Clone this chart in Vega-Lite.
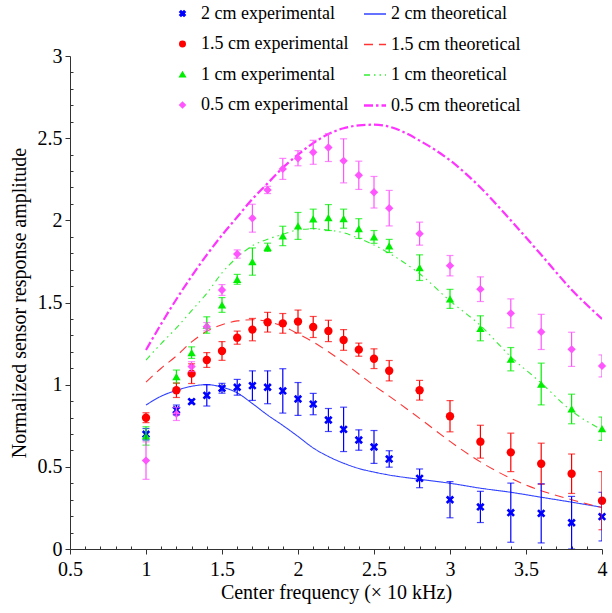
{
  "$schema": "https://vega.github.io/schema/vega-lite/v6.json",
  "width": 532,
  "height": 493,
  "autosize": "none",
  "padding": {"left": 70, "top": 56, "right": 10, "bottom": 64},
  "background": "white",
  "config": {
    "view": {"stroke": null}
  },
  "datasets": {
    "exp": [
      {"s": "2 cm experimental", "x": 1.0, "y": 0.698, "e": 0.035},
      {"s": "2 cm experimental", "x": 1.2, "y": 0.846, "e": 0.03},
      {"s": "2 cm experimental", "x": 1.3, "y": 0.897, "e": 0.012},
      {"s": "2 cm experimental", "x": 1.4, "y": 0.935, "e": 0.065},
      {"s": "2 cm experimental", "x": 1.5, "y": 0.978, "e": 0.03},
      {"s": "2 cm experimental", "x": 1.6, "y": 0.984, "e": 0.048},
      {"s": "2 cm experimental", "x": 1.7, "y": 0.994, "e": 0.09},
      {"s": "2 cm experimental", "x": 1.8, "y": 0.984, "e": 0.1},
      {"s": "2 cm experimental", "x": 1.9, "y": 0.962, "e": 0.135},
      {"s": "2 cm experimental", "x": 2.0, "y": 0.913, "e": 0.1},
      {"s": "2 cm experimental", "x": 2.1, "y": 0.882, "e": 0.065},
      {"s": "2 cm experimental", "x": 2.2, "y": 0.785, "e": 0.07},
      {"s": "2 cm experimental", "x": 2.3, "y": 0.728, "e": 0.135},
      {"s": "2 cm experimental", "x": 2.4, "y": 0.663, "e": 0.062},
      {"s": "2 cm experimental", "x": 2.5, "y": 0.621, "e": 0.1},
      {"s": "2 cm experimental", "x": 2.6, "y": 0.548, "e": 0.05},
      {"s": "2 cm experimental", "x": 2.8, "y": 0.43, "e": 0.057},
      {"s": "2 cm experimental", "x": 3.0, "y": 0.3, "e": 0.11},
      {"s": "2 cm experimental", "x": 3.2, "y": 0.256, "e": 0.095},
      {"s": "2 cm experimental", "x": 3.4, "y": 0.221, "e": 0.18},
      {"s": "2 cm experimental", "x": 3.6, "y": 0.217, "e": 0.18},
      {"s": "2 cm experimental", "x": 3.8, "y": 0.16, "e": 0.16},
      {"s": "2 cm experimental", "x": 4.0, "y": 0.197, "e": 0.148},
      {"s": "1.5 cm experimental", "x": 1.0, "y": 0.799, "e": 0.03},
      {"s": "1.5 cm experimental", "x": 1.2, "y": 0.966, "e": 0.044},
      {"s": "1.5 cm experimental", "x": 1.3, "y": 1.067, "e": 0.06},
      {"s": "1.5 cm experimental", "x": 1.4, "y": 1.15, "e": 0.045},
      {"s": "1.5 cm experimental", "x": 1.5, "y": 1.205, "e": 0.057},
      {"s": "1.5 cm experimental", "x": 1.6, "y": 1.286, "e": 0.04},
      {"s": "1.5 cm experimental", "x": 1.7, "y": 1.335, "e": 0.068},
      {"s": "1.5 cm experimental", "x": 1.8, "y": 1.38, "e": 0.06},
      {"s": "1.5 cm experimental", "x": 1.9, "y": 1.373, "e": 0.06},
      {"s": "1.5 cm experimental", "x": 2.0, "y": 1.384, "e": 0.07},
      {"s": "1.5 cm experimental", "x": 2.1, "y": 1.351, "e": 0.064},
      {"s": "1.5 cm experimental", "x": 2.2, "y": 1.327, "e": 0.065},
      {"s": "1.5 cm experimental", "x": 2.3, "y": 1.272, "e": 0.063},
      {"s": "1.5 cm experimental", "x": 2.4, "y": 1.213, "e": 0.04},
      {"s": "1.5 cm experimental", "x": 2.5, "y": 1.158, "e": 0.06},
      {"s": "1.5 cm experimental", "x": 2.6, "y": 1.085, "e": 0.062},
      {"s": "1.5 cm experimental", "x": 2.8, "y": 0.966, "e": 0.06},
      {"s": "1.5 cm experimental", "x": 3.0, "y": 0.808, "e": 0.095},
      {"s": "1.5 cm experimental", "x": 3.2, "y": 0.653, "e": 0.1},
      {"s": "1.5 cm experimental", "x": 3.4, "y": 0.588, "e": 0.117},
      {"s": "1.5 cm experimental", "x": 3.6, "y": 0.519, "e": 0.125},
      {"s": "1.5 cm experimental", "x": 3.8, "y": 0.458, "e": 0.12},
      {"s": "1.5 cm experimental", "x": 4.0, "y": 0.294, "e": 0.177},
      {"s": "1 cm experimental", "x": 1.0, "y": 0.688, "e": 0.056},
      {"s": "1 cm experimental", "x": 1.2, "y": 1.049, "e": 0.04},
      {"s": "1 cm experimental", "x": 1.3, "y": 1.195, "e": 0.035},
      {"s": "1 cm experimental", "x": 1.4, "y": 1.363, "e": 0.05},
      {"s": "1 cm experimental", "x": 1.5, "y": 1.485, "e": 0.045},
      {"s": "1 cm experimental", "x": 1.6, "y": 1.641, "e": 0.03},
      {"s": "1 cm experimental", "x": 1.7, "y": 1.749, "e": 0.083},
      {"s": "1 cm experimental", "x": 1.8, "y": 1.836, "e": 0.025},
      {"s": "1 cm experimental", "x": 1.9, "y": 1.905, "e": 0.059},
      {"s": "1 cm experimental", "x": 2.0, "y": 1.966, "e": 0.082},
      {"s": "1 cm experimental", "x": 2.1, "y": 2.009, "e": 0.059},
      {"s": "1 cm experimental", "x": 2.2, "y": 2.017, "e": 0.079},
      {"s": "1 cm experimental", "x": 2.3, "y": 2.01, "e": 0.058},
      {"s": "1 cm experimental", "x": 2.4, "y": 1.95, "e": 0.06},
      {"s": "1 cm experimental", "x": 2.5, "y": 1.899, "e": 0.039},
      {"s": "1 cm experimental", "x": 2.6, "y": 1.844, "e": 0.04},
      {"s": "1 cm experimental", "x": 2.8, "y": 1.712, "e": 0.078},
      {"s": "1 cm experimental", "x": 3.0, "y": 1.522, "e": 0.058},
      {"s": "1 cm experimental", "x": 3.2, "y": 1.343, "e": 0.076},
      {"s": "1 cm experimental", "x": 3.4, "y": 1.155, "e": 0.071},
      {"s": "1 cm experimental", "x": 3.6, "y": 1.004, "e": 0.127},
      {"s": "1 cm experimental", "x": 3.8, "y": 0.852, "e": 0.09},
      {"s": "1 cm experimental", "x": 4.0, "y": 0.732, "e": 0.071},
      {"s": "0.5 cm experimental", "x": 1.0, "y": 0.538, "e": 0.114},
      {"s": "0.5 cm experimental", "x": 1.2, "y": 0.822, "e": 0.04},
      {"s": "0.5 cm experimental", "x": 1.3, "y": 1.11, "e": 0.03},
      {"s": "0.5 cm experimental", "x": 1.4, "y": 1.353, "e": 0.025},
      {"s": "0.5 cm experimental", "x": 1.5, "y": 1.576, "e": 0.033},
      {"s": "0.5 cm experimental", "x": 1.6, "y": 1.795, "e": 0.025},
      {"s": "0.5 cm experimental", "x": 1.7, "y": 2.013, "e": 0.085},
      {"s": "0.5 cm experimental", "x": 1.8, "y": 2.185, "e": 0.022},
      {"s": "0.5 cm experimental", "x": 1.9, "y": 2.313, "e": 0.064},
      {"s": "0.5 cm experimental", "x": 2.0, "y": 2.378, "e": 0.046},
      {"s": "0.5 cm experimental", "x": 2.1, "y": 2.414, "e": 0.073},
      {"s": "0.5 cm experimental", "x": 2.2, "y": 2.443, "e": 0.085},
      {"s": "0.5 cm experimental", "x": 2.3, "y": 2.362, "e": 0.134},
      {"s": "0.5 cm experimental", "x": 2.4, "y": 2.274, "e": 0.086},
      {"s": "0.5 cm experimental", "x": 2.5, "y": 2.171, "e": 0.096},
      {"s": "0.5 cm experimental", "x": 2.6, "y": 2.074, "e": 0.108},
      {"s": "0.5 cm experimental", "x": 2.8, "y": 1.919, "e": 0.07},
      {"s": "0.5 cm experimental", "x": 3.0, "y": 1.724, "e": 0.062},
      {"s": "0.5 cm experimental", "x": 3.2, "y": 1.581, "e": 0.075},
      {"s": "0.5 cm experimental", "x": 3.4, "y": 1.434, "e": 0.088},
      {"s": "0.5 cm experimental", "x": 3.6, "y": 1.321, "e": 0.107},
      {"s": "0.5 cm experimental", "x": 3.8, "y": 1.215, "e": 0.104},
      {"s": "0.5 cm experimental", "x": 4.0, "y": 1.114, "e": 0.067}
    ],
    "theo": [
      {"c": "2 cm theoretical", "x": 1.0, "y": 0.876},
      {"c": "2 cm theoretical", "x": 1.1, "y": 0.93},
      {"c": "2 cm theoretical", "x": 1.2, "y": 0.965},
      {"c": "2 cm theoretical", "x": 1.3, "y": 0.99},
      {"c": "2 cm theoretical", "x": 1.4, "y": 1.0},
      {"c": "2 cm theoretical", "x": 1.5, "y": 0.985},
      {"c": "2 cm theoretical", "x": 1.6, "y": 0.95},
      {"c": "2 cm theoretical", "x": 1.7, "y": 0.885},
      {"c": "2 cm theoretical", "x": 1.8, "y": 0.815},
      {"c": "2 cm theoretical", "x": 1.9, "y": 0.752},
      {"c": "2 cm theoretical", "x": 2.0, "y": 0.685},
      {"c": "2 cm theoretical", "x": 2.1, "y": 0.615},
      {"c": "2 cm theoretical", "x": 2.2, "y": 0.563},
      {"c": "2 cm theoretical", "x": 2.3, "y": 0.522},
      {"c": "2 cm theoretical", "x": 2.4, "y": 0.49},
      {"c": "2 cm theoretical", "x": 2.5, "y": 0.468},
      {"c": "2 cm theoretical", "x": 2.6, "y": 0.45},
      {"c": "2 cm theoretical", "x": 2.8, "y": 0.424},
      {"c": "2 cm theoretical", "x": 3.0, "y": 0.4},
      {"c": "2 cm theoretical", "x": 3.2, "y": 0.37},
      {"c": "2 cm theoretical", "x": 3.4, "y": 0.345},
      {"c": "2 cm theoretical", "x": 3.6, "y": 0.315},
      {"c": "2 cm theoretical", "x": 3.8, "y": 0.285},
      {"c": "2 cm theoretical", "x": 4.0, "y": 0.254},
      {"c": "1.5 cm theoretical", "x": 1.0, "y": 1.015},
      {"c": "1.5 cm theoretical", "x": 1.1, "y": 1.1},
      {"c": "1.5 cm theoretical", "x": 1.2, "y": 1.175},
      {"c": "1.5 cm theoretical", "x": 1.3, "y": 1.26},
      {"c": "1.5 cm theoretical", "x": 1.4, "y": 1.325},
      {"c": "1.5 cm theoretical", "x": 1.5, "y": 1.365},
      {"c": "1.5 cm theoretical", "x": 1.6, "y": 1.388},
      {"c": "1.5 cm theoretical", "x": 1.7, "y": 1.395},
      {"c": "1.5 cm theoretical", "x": 1.8, "y": 1.385},
      {"c": "1.5 cm theoretical", "x": 1.9, "y": 1.355},
      {"c": "1.5 cm theoretical", "x": 2.0, "y": 1.31},
      {"c": "1.5 cm theoretical", "x": 2.1, "y": 1.26},
      {"c": "1.5 cm theoretical", "x": 2.2, "y": 1.2},
      {"c": "1.5 cm theoretical", "x": 2.3, "y": 1.135},
      {"c": "1.5 cm theoretical", "x": 2.4, "y": 1.065},
      {"c": "1.5 cm theoretical", "x": 2.5, "y": 0.995},
      {"c": "1.5 cm theoretical", "x": 2.6, "y": 0.93},
      {"c": "1.5 cm theoretical", "x": 2.8, "y": 0.795},
      {"c": "1.5 cm theoretical", "x": 3.0, "y": 0.655},
      {"c": "1.5 cm theoretical", "x": 3.2, "y": 0.53},
      {"c": "1.5 cm theoretical", "x": 3.4, "y": 0.43},
      {"c": "1.5 cm theoretical", "x": 3.6, "y": 0.355},
      {"c": "1.5 cm theoretical", "x": 3.8, "y": 0.3},
      {"c": "1.5 cm theoretical", "x": 4.0, "y": 0.252},
      {"c": "1 cm theoretical", "x": 1.0, "y": 1.15},
      {"c": "1 cm theoretical", "x": 1.1, "y": 1.25},
      {"c": "1 cm theoretical", "x": 1.2, "y": 1.345},
      {"c": "1 cm theoretical", "x": 1.3, "y": 1.45},
      {"c": "1 cm theoretical", "x": 1.4, "y": 1.556},
      {"c": "1 cm theoretical", "x": 1.5, "y": 1.68},
      {"c": "1 cm theoretical", "x": 1.6, "y": 1.775},
      {"c": "1 cm theoretical", "x": 1.7, "y": 1.845},
      {"c": "1 cm theoretical", "x": 1.8, "y": 1.885},
      {"c": "1 cm theoretical", "x": 1.9, "y": 1.915},
      {"c": "1 cm theoretical", "x": 2.0, "y": 1.942},
      {"c": "1 cm theoretical", "x": 2.1, "y": 1.948},
      {"c": "1 cm theoretical", "x": 2.2, "y": 1.94},
      {"c": "1 cm theoretical", "x": 2.3, "y": 1.925},
      {"c": "1 cm theoretical", "x": 2.4, "y": 1.89},
      {"c": "1 cm theoretical", "x": 2.5, "y": 1.85},
      {"c": "1 cm theoretical", "x": 2.6, "y": 1.8},
      {"c": "1 cm theoretical", "x": 2.8, "y": 1.675},
      {"c": "1 cm theoretical", "x": 3.0, "y": 1.51},
      {"c": "1 cm theoretical", "x": 3.2, "y": 1.36},
      {"c": "1 cm theoretical", "x": 3.4, "y": 1.17},
      {"c": "1 cm theoretical", "x": 3.6, "y": 1.01},
      {"c": "1 cm theoretical", "x": 3.8, "y": 0.84},
      {"c": "1 cm theoretical", "x": 4.0, "y": 0.725},
      {"c": "0.5 cm theoretical", "x": 1.0, "y": 1.211},
      {"c": "0.5 cm theoretical", "x": 1.1, "y": 1.37},
      {"c": "0.5 cm theoretical", "x": 1.2, "y": 1.52},
      {"c": "0.5 cm theoretical", "x": 1.3, "y": 1.66},
      {"c": "0.5 cm theoretical", "x": 1.4, "y": 1.79},
      {"c": "0.5 cm theoretical", "x": 1.5, "y": 1.91},
      {"c": "0.5 cm theoretical", "x": 1.6, "y": 2.02},
      {"c": "0.5 cm theoretical", "x": 1.7, "y": 2.13},
      {"c": "0.5 cm theoretical", "x": 1.8, "y": 2.225},
      {"c": "0.5 cm theoretical", "x": 1.9, "y": 2.32},
      {"c": "0.5 cm theoretical", "x": 2.0, "y": 2.4},
      {"c": "0.5 cm theoretical", "x": 2.1, "y": 2.47},
      {"c": "0.5 cm theoretical", "x": 2.2, "y": 2.525},
      {"c": "0.5 cm theoretical", "x": 2.3, "y": 2.56},
      {"c": "0.5 cm theoretical", "x": 2.4, "y": 2.578},
      {"c": "0.5 cm theoretical", "x": 2.5, "y": 2.582},
      {"c": "0.5 cm theoretical", "x": 2.6, "y": 2.57},
      {"c": "0.5 cm theoretical", "x": 2.7, "y": 2.535},
      {"c": "0.5 cm theoretical", "x": 2.8, "y": 2.485},
      {"c": "0.5 cm theoretical", "x": 2.9, "y": 2.43},
      {"c": "0.5 cm theoretical", "x": 3.0, "y": 2.365},
      {"c": "0.5 cm theoretical", "x": 3.2, "y": 2.2},
      {"c": "0.5 cm theoretical", "x": 3.4, "y": 2.0},
      {"c": "0.5 cm theoretical", "x": 3.6, "y": 1.79},
      {"c": "0.5 cm theoretical", "x": 3.8, "y": 1.578},
      {"c": "0.5 cm theoretical", "x": 4.0, "y": 1.4}
    ]
  },
  "encoding": {
    "x": {
      "field": "x", "type": "quantitative",
      "scale": {"domain": [0.5, 4], "nice": false, "zero": false},
      "axis": {
        "title": "Center frequency (× 10 kHz)",
        "grid": false,
        "labelFont": "Liberation Serif", "labelFontSize": 20, "labelColor": "black",
        "titleFont": "Liberation Serif", "titleFontSize": 20, "titleFontWeight": "normal", "titleColor": "black",
        "domainColor": "#333", "tickColor": "#333",
        "values": [0.5,0.6,0.7,0.8,0.9,1,1.1,1.2,1.3,1.4,1.5,1.6,1.7,1.8,1.9,2,2.1,2.2,2.3,2.4,2.5,2.6,2.7,2.8,2.9,3,3.1,3.2,3.3,3.4,3.5,3.6,3.7,3.8,3.9,4],
        "labelExpr": "abs(datum.value*2 - round(datum.value*2)) < 0.001 ? format(datum.value, '.1~f') : ''",
        "tickSize": {"condition": {"test": "abs(datum.value*2 - round(datum.value*2)) < 0.001", "value": 5}, "value": -3},
        "labelPadding": 5,
        "labelFlush": false,
        "labelOverlap": false,
        "titlePadding": 3
      }
    },
    "y": {
      "field": "y", "type": "quantitative",
      "scale": {"domain": [0, 3], "nice": false},
      "axis": {
        "title": "Normalized sensor response amplitude",
        "grid": false,
        "labelFont": "Liberation Serif", "labelFontSize": 20, "labelColor": "black",
        "titleFont": "Liberation Serif", "titleFontSize": 20, "titleFontWeight": "normal", "titleColor": "black",
        "domainColor": "#333", "tickColor": "#333",
        "values": [0,0.1,0.2,0.3,0.4,0.5,0.6,0.7,0.8,0.9,1,1.1,1.2,1.3,1.4,1.5,1.6,1.7,1.8,1.9,2,2.1,2.2,2.3,2.4,2.5,2.6,2.7,2.8,2.9,3],
        "labelExpr": "abs(datum.value*2 - round(datum.value*2)) < 0.001 ? format(datum.value, '.1~f') : ''",
        "tickSize": {"condition": {"test": "abs(datum.value*2 - round(datum.value*2)) < 0.001", "value": 5}, "value": -3},
        "labelPadding": 3,
        "labelFlush": false,
        "labelOverlap": false,
        "titlePadding": 8
      }
    }
  },
  "layer": [
    {
      "data": {"name": "theo"},
      "mark": {"type": "line", "interpolate": "monotone", "clip": true},
      "encoding": {
        "stroke": {
          "field": "c", "type": "nominal",
          "scale": {"domain": ["2 cm theoretical", "1.5 cm theoretical", "1 cm theoretical", "0.5 cm theoretical"], "range": ["#3344ff", "#ff3333", "#33ee33", "#ff33ff"]},
          "legend": {"orient": "none", "legendX": 296, "legendY": -51, "title": null, "symbolType": "stroke", "symbolSize": 484, "symbolStrokeWidth": 1.3, "labelOffset": 7, "rowPadding": 12.5, "padding": 0,
            "labelFont": "Liberation Serif", "labelFontSize": 18, "labelColor": "black",
            "encode": {"symbols": {"update": {"strokeWidth": {"signal": "datum.value == '0.5 cm theoretical' ? 2.4 : 1.3"}}}}}
        },
        "strokeDash": {
          "field": "c", "type": "nominal",
          "scale": {"domain": ["2 cm theoretical", "1.5 cm theoretical", "1 cm theoretical", "0.5 cm theoretical"], "range": [[1, 0], [9, 6], [6, 4, 1.5, 4, 1.5, 4], [9, 3, 2.5, 3]]}
        },
        "strokeWidth": {"condition": {"test": "datum.c == '0.5 cm theoretical'", "value": 2.2}, "value": 1.1}
      }
    },
    {
      "data": {"name": "exp"},
      "mark": {"type": "point", "filled": true, "opacity": 1, "size": 70},
      "encoding": {
        "color": {"field": "s", "type": "nominal",
          "scale": {"domain": ["2 cm experimental", "1.5 cm experimental", "1 cm experimental", "0.5 cm experimental"], "range": ["#0000ff", "#ff0000", "#00ee00", "#ff55ff"]},
          "legend": {"orient": "none", "legendX": 103.5, "legendY": -51.5, "title": null, "symbolSize": 30, "labelOffset": 9.5, "rowPadding": 12.5, "padding": 0,
            "labelFont": "Liberation Serif", "labelFontSize": 18, "labelColor": "black"}},
        "shape": {"field": "s", "type": "nominal",
          "scale": {"domain": ["2 cm experimental", "1.5 cm experimental", "1 cm experimental", "0.5 cm experimental"], "range": ["M-1,-0.55L-0.55,-1L0,-0.45L0.55,-1L1,-0.55L0.45,0L1,0.55L0.55,1L0,0.45L-0.55,1L-1,0.55L-0.45,0Z", "circle", "triangle-up", "diamond"]}}
      }
    },
    {
      "data": {"name": "exp"},
      "mark": {"type": "errorbar", "ticks": {"size": 7, "thickness": 1.2}, "thickness": 1.2, "clip": true},
      "encoding": {
        "yError": {"field": "e"},
        "color": {"field": "s", "type": "nominal"}
      }
    }
  ]
}
